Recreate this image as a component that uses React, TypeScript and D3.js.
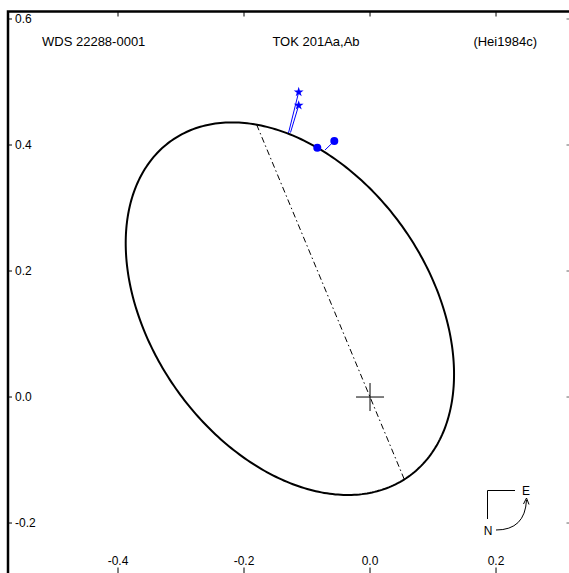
import React from "react";
import * as d3 from "d3";

// axis domains (arcsec) and ticks
const xDomain = [-0.5746, 0.319];
const yDomain = [-0.2817, 0.6119];
const xTicks = [-0.4, -0.2, 0.0, 0.2];
const xTickLabels = ["-0.4", "-0.2", "0.0", "0.2"];
const yTicks = [-0.2, 0.0, 0.2, 0.4, 0.6];
const yTickLabels = ["-0.2", "0.0", "0.2", "0.4", "0.6"];

// apparent orbit ellipse (center, semi-axes, rotation) and line of nodes
const orbitCenter = [-0.1272, 0.1402];
const orbitSemiAxes = [0.3263, 0.221];
const orbitAngleDeg = -54.9;
const nodeLineAngleDeg = 112.6;

// observations: speckle (stars) and micrometer (dots), with computed positions
const speckleObs = [
  [-0.1132, 0.4841],
  [-0.1132, 0.463],
];
const speckleCalc = [
  [-0.1294, 0.419],
  [-0.1262, 0.4198],
];
const visualObs = [
  [-0.0837, 0.3957],
  [-0.0567, 0.4063],
];
const visualCalc = [
  [-0.083, 0.395],
  [-0.0714, 0.3921],
];

const titleLeft = "WDS 22288-0001";
const titleMid = "TOK 201Aa,Ab";
const titleRight = "(Hei1984c)";

const W = 569;
const H = 573;
const FONT = "'Liberation Sans', Arial, Helvetica, sans-serif";

export default function App() {
  const x = d3.scaleLinear().domain(xDomain).range([8, 571]);
  const y = d3.scaleLinear().domain(yDomain).range([574.5, 11.5]);

  const phi = (orbitAngleDeg * Math.PI) / 180;
  const [cx, cy] = orbitCenter;
  const [a, b] = orbitSemiAxes;
  const pts: [number, number][] = d3.range(0, 361).map((d) => {
    const t = (d * Math.PI) / 180;
    const u = a * Math.cos(t);
    const v = b * Math.sin(t);
    return [cx + u * Math.cos(phi) - v * Math.sin(phi), cy + u * Math.sin(phi) + v * Math.cos(phi)];
  });
  const line = d3
    .line<[number, number]>()
    .x((d) => x(d[0]))
    .y((d) => y(d[1]));
  const orbitPath = line(pts) + "Z";

  // intersect line of nodes (through origin) with ellipse
  const th = (nodeLineAngleDeg * Math.PI) / 180;
  const dx = Math.cos(th);
  const dy = Math.sin(th);
  const du = dx * Math.cos(phi) + dy * Math.sin(phi);
  const dv = -dx * Math.sin(phi) + dy * Math.cos(phi);
  const u0 = -cx * Math.cos(phi) - cy * Math.sin(phi);
  const v0 = cx * Math.sin(phi) - cy * Math.cos(phi);
  const A = (du * du) / (a * a) + (dv * dv) / (b * b);
  const B = 2 * ((u0 * du) / (a * a) + (v0 * dv) / (b * b));
  const C = (u0 * u0) / (a * a) + (v0 * v0) / (b * b) - 1;
  const disc = Math.sqrt(B * B - 4 * A * C);
  const s1 = (-B + disc) / (2 * A);
  const s2 = (-B - disc) / (2 * A);
  const n1 = [s1 * dx, s1 * dy];
  const n2 = [s2 * dx, s2 * dy];

  const star = d3.symbol().type(d3.symbolStar).size(30)();

  return (
    <svg
      width={W}
      height={H}
      style={{ position: "absolute", left: 0, top: 0, background: "#fff" }}
      fontFamily={FONT}
    >
      <rect x={0} y={0} width={W} height={H} fill="#fff" />
      {/* frame */}
      <rect
        x={x(xDomain[0])}
        y={y(yDomain[1])}
        width={x(xDomain[1]) - x(xDomain[0])}
        height={y(yDomain[0]) - y(yDomain[1])}
        fill="none"
        stroke="#000"
        strokeWidth={2.5}
      />
      {/* ticks */}
      {xTicks.map((t, i) => (
        <g key={"xt" + i}>
          <line x1={x(t)} x2={x(t)} y1={y(yDomain[1])} y2={y(yDomain[1]) + 5} stroke="#000" strokeWidth={1} />
          <line x1={x(t)} x2={x(t)} y1={y(yDomain[0])} y2={y(yDomain[0]) - 7} stroke="#000" strokeWidth={1} />
          <text x={x(t)} y={565} textAnchor="middle" fontSize={12} fill="#000">
            {xTickLabels[i]}
          </text>
        </g>
      ))}
      {yTicks.map((t, i) => (
        <g key={"yt" + i}>
          <line x1={x(xDomain[0])} x2={x(xDomain[0]) + 4} y1={y(t)} y2={y(t)} stroke="#000" strokeWidth={1} />
          <line x1={x(xDomain[1])} x2={x(xDomain[1]) - 4.5} y1={y(t)} y2={y(t)} stroke="#666" strokeWidth={1} />
          <text x={15} y={y(t)} dy="0.36em" fontSize={12} fill="#000">
            {yTickLabels[i]}
          </text>
        </g>
      ))}
      {/* titles */}
      <text x={42} y={46} fontSize={13} fill="#000">{titleLeft}</text>
      <text x={316} y={46} fontSize={13} textAnchor="middle" fill="#000">{titleMid}</text>
      <text x={537} y={46} fontSize={13} textAnchor="end" fill="#000">{titleRight}</text>

      {/* line of nodes */}
      <line
        x1={x(n1[0])}
        y1={y(n1[1])}
        x2={x(n2[0])}
        y2={y(n2[1])}
        stroke="#000"
        strokeWidth={1}
        strokeDasharray="6,3,1.5,3"
      />
      {/* orbit */}
      <path d={orbitPath} fill="none" stroke="#000" strokeWidth={2} />
      {/* primary */}
      <line x1={x(0) - 14} x2={x(0) + 14} y1={y(0)} y2={y(0)} stroke="#000" strokeWidth={1} />
      <line x1={x(0)} x2={x(0)} y1={y(0) - 14} y2={y(0) + 14} stroke="#000" strokeWidth={1} />

      {/* O-C lines */}
      {speckleObs.map((d, i) => (
        <line
          key={"sl" + i}
          x1={x(d[0])}
          y1={y(d[1])}
          x2={x(speckleCalc[i][0])}
          y2={y(speckleCalc[i][1])}
          stroke="#0000ff"
          strokeWidth={1}
        />
      ))}
      {visualObs.map((d, i) => (
        <line
          key={"vl" + i}
          x1={x(d[0])}
          y1={y(d[1])}
          x2={x(visualCalc[i][0])}
          y2={y(visualCalc[i][1])}
          stroke="#0000ff"
          strokeWidth={1}
        />
      ))}
      {speckleObs.map((d, i) => (
        <path key={"s" + i} d={star as string} transform={`translate(${x(d[0])},${y(d[1])})`} fill="#0000ff" />
      ))}
      {visualObs.map((d, i) => (
        <circle key={"v" + i} cx={x(d[0])} cy={y(d[1])} r={4} fill="#0000ff" />
      ))}

      {/* compass */}
      <g stroke="#000" strokeWidth={1} fill="none">
        <path d="M487.5,519 L487.5,490.5 L515,490.5" />
        <path d="M496,530 Q525,530 526.5,500" />
        <path d="M523.5,504 L526.5,498 L529,504.5" />
      </g>
      <text x={526} y={491} dy="0.36em" textAnchor="middle" fontSize={12} fill="#000">E</text>
      <text x={488} y={531} dy="0.36em" textAnchor="middle" fontSize={12} fill="#000">N</text>
    </svg>
  );
}
